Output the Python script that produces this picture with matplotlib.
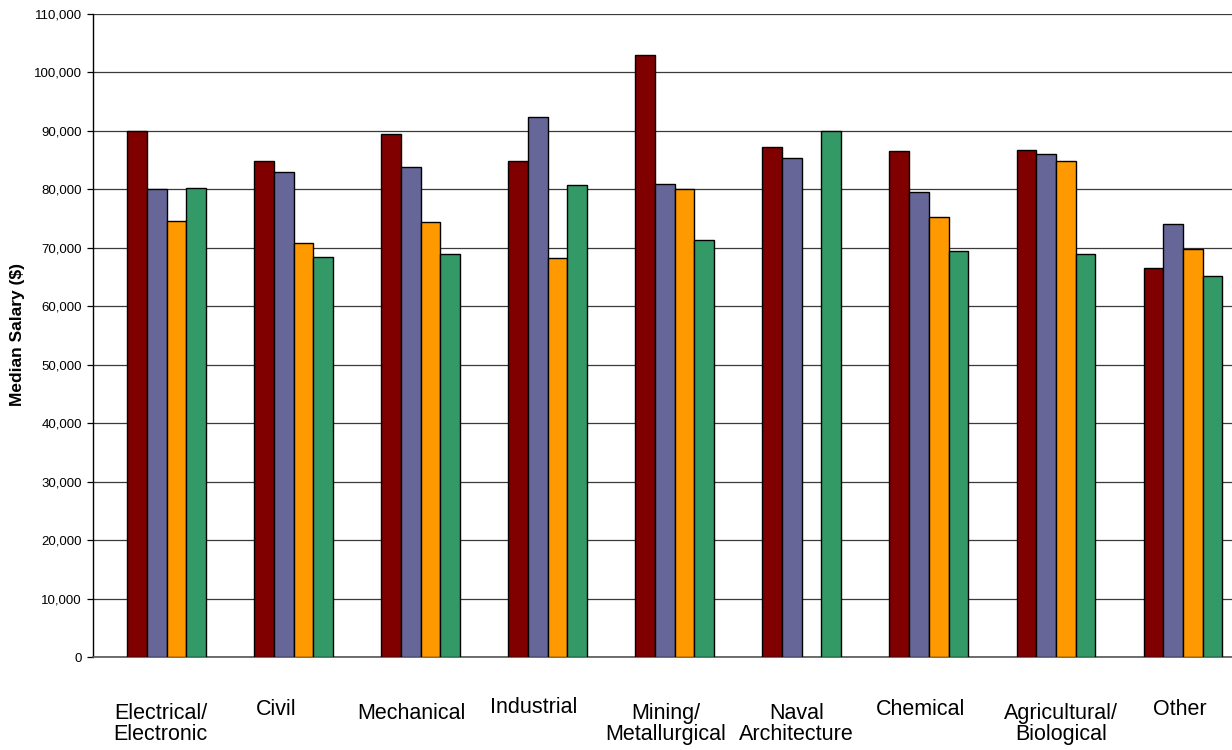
"""
Median salary by engineering discipline: grouped bars, four series per field.
"""

import matplotlib

matplotlib.use("Agg")
import matplotlib.pyplot as plt  # noqa: E402
import numpy as np  # noqa: E402
from matplotlib.ticker import FuncFormatter, MultipleLocator  # noqa: E402

plt.rcParams["font.family"] = ["Liberation Sans", "DejaVu Sans"]

# ---- data ----
disciplines = [
    "Electrical/\nElectronic",
    "Civil",
    "Mechanical",
    "Industrial",
    "Mining/\nMetallurgical",
    "Naval\nArchitecture",
    "Chemical",
    "Agricultural/\nBiological",
    "Other",
]
series_names = ["Series 1", "Series 2", "Series 3", "Series 4"]
series_1 = [90000, 84800, 89500, 84800, 103000, 87300, 86500, 86800, 66600]
series_2 = [80000, 83000, 83900, 92300, 80900, 85400, 79500, 86000, 74100]
series_3 = [74600, 70800, 74400, 68200, 80000, np.nan, 75200, 84800, 69800]
series_4 = [80200, 68400, 68900, 80800, 71400, 90000, 69500, 69000, 65200]

colors = ["#800000", "#666699", "#FF9900", "#339966"]

W, H = 1232, 750
fig = plt.figure(figsize=(W / 100, H / 100), dpi=100)
# plot area: y-axis at x=93 px, zero at y=657 px, 110,000 at y=14 px;
# the right side runs off the canvas as in the reference
ax = fig.add_axes([93 / W, (H - 657) / H, 1 - 93 / W, (657 - 14) / H])

step = 127.06  # px between category centres
x = np.arange(len(disciplines))
bw = 0.155
all_series = [series_1, series_2, series_3, series_4]
for k, (vals, col, name) in enumerate(zip(all_series, colors, series_names)):
    vals = np.asarray(vals, dtype=float)
    ok = np.isfinite(vals)
    ax.bar(
        x[ok] + (k - 1.5) * bw, vals[ok], width=bw, color=col,
        edgecolor="black", linewidth=1.0, label=name, zorder=3,
    )

ax.set_xlim((93 - 166.5) / step, (W - 166.5) / step)
ax.set_ylim(0, 110000)
ax.yaxis.set_major_locator(MultipleLocator(10000))
ax.yaxis.set_major_formatter(FuncFormatter(lambda v, _: f"{int(v):,}"))
ax.grid(axis="y", color="#3a3a3a", linewidth=0.9, zorder=0)
ax.set_axisbelow(True)

for side in ("top", "right"):
    ax.spines[side].set_visible(False)
ax.spines["left"].set_color("black")
ax.spines["left"].set_linewidth(1.0)
ax.spines["bottom"].set_color("#555555")
ax.spines["bottom"].set_linewidth(1.2)

ax.tick_params(axis="y", direction="out", length=4, width=0.9,
               labelsize=9.5, pad=4, colors="black")
ax.set_xticks([])

ax.set_ylabel("Median Salary ($)", fontsize=12.5, fontweight="bold", labelpad=8)
ax.yaxis.set_label_coords(-68 / (W - 93), (657 - 335) / (657 - 14))

# category labels sit well below the axis, slightly uneven (as Excel laid them out)
label_top_px = [703, 699, 703, 697, 703, 703, 699, 703, 699]
label_dx_px = [-6, -17, -9, -14, -9, -5, -8, 5, -3]
for i, (name, top, dx) in enumerate(zip(disciplines, label_top_px, label_dx_px)):
    ax.text(
        i + dx / step, (657 - top) / (657 - 14), name,
        transform=ax.get_xaxis_transform(), ha="center", va="top",
        fontsize=15.5, linespacing=1.0, multialignment="center",
    )

fig.savefig("out.png", dpi=100, facecolor="white")
plt.close(fig)
